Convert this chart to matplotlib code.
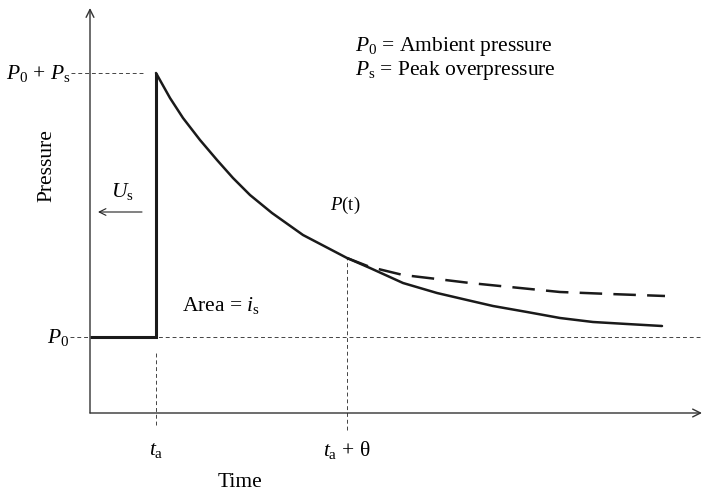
import matplotlib
matplotlib.use("Agg")
import matplotlib.pyplot as plt

plt.rcParams['font.family'] = ['Liberation Serif', 'DejaVu Serif']
plt.rcParams['mathtext.fontset'] = 'custom'
plt.rcParams['mathtext.rm'] = 'Liberation Serif'
plt.rcParams['mathtext.it'] = 'Liberation Serif:italic'

# schematic values (arbitrary units)
P0 = 76
Ps = 264
ta = 66
theta = 191

# positive phase pressure curve P(t)
t_curve = [66, 80, 93, 110, 127, 143, 160, 182, 213, 257,
           280, 313, 347, 377, 403, 437, 470, 503, 537, 572]
p_curve = [340, 315, 295, 273, 253, 235, 218, 200, 178, 155,
           145, 130, 120, 113, 107, 101, 95, 91, 89, 87]

# dashed alternative decay
t_dash = [257, 280, 313, 347, 380, 420, 470, 520, 575]
p_dash = [155, 146, 138, 134, 130, 126, 121, 119, 117]

fig = plt.figure(figsize=(7.02, 4.94), dpi=100)
ax = fig.add_axes([0, 0, 1, 1])
ax.set_xlim(-90, 612)
ax.set_ylim(-81, 413)
ax.axis("off")

# axes with open arrow heads
ax.annotate("", xy=(0, 405), xytext=(0, 0),
            arrowprops=dict(arrowstyle="->", lw=1.0, color="#333333",
                            mutation_scale=14, shrinkA=0, shrinkB=0))
ax.annotate("", xy=(612, 0), xytext=(0, 0),
            arrowprops=dict(arrowstyle="->", lw=1.0, color="#333333",
                            mutation_scale=14, shrinkA=0, shrinkB=0))

# guide lines
guide = dict(color="#444444", lw=0.7, dashes=(4, 3))
ax.plot([-20, 612], [P0, P0], **guide)
ax.plot([-19, ta - 12], [P0 + Ps, P0 + Ps], **guide)
ax.plot([ta, ta], [-12, P0 - 15], **guide)
ax.plot([ta + theta, ta + theta], [-17, p_curve[9]], **guide)

# ambient then shock jump
ax.plot([0, ta, ta], [P0, P0, P0 + Ps], color="#1a1a1a", lw=2.2,
        solid_joinstyle="miter", solid_capstyle="butt")
ax.plot(t_curve, p_curve, color="#1a1a1a", lw=1.8, solid_capstyle="round",
        solid_joinstyle="round")
ax.plot(t_dash, p_dash, color="#1a1a1a", lw=1.8, dashes=(9, 4.5))

fs = 15.5
ax.text(-43, 247, "Pressure", rotation=90, ha="center", va="center", fontsize=fs)
ax.text(150, -69, "Time", ha="center", va="center", fontsize=fs)
ax.text(-19, P0 + Ps, r"$P_0$ + $P_\mathrm{s}$", ha="right", va="center", fontsize=fs)
ax.text(-21, P0, r"$P_0$", ha="right", va="center", fontsize=fs)
ax.text(ta, -37, r"$t_\mathrm{a}$", ha="center", va="center", fontsize=fs)
ax.text(ta + theta, -37, r"$t_\mathrm{a}$ + θ", ha="center", va="center", fontsize=fs)
ax.text(32, 221, r"$U_\mathrm{s}$", ha="center", va="center", fontsize=fs)
ax.annotate("", xy=(8, 201), xytext=(52, 201),
            arrowprops=dict(arrowstyle="->", lw=0.8, color="#222222",
                            mutation_scale=12, shrinkA=0, shrinkB=0))
ax.text(240, 208, r"$P$(t)", ha="left", va="center", fontsize=fs - 2)
ax.text(92, 108, r"Area = $i_\mathrm{s}$", ha="left", va="center", fontsize=fs)
ax.text(265, 366, r"$P_0$ = Ambient pressure", ha="left", va="center", fontsize=fs)
ax.text(265, 343, r"$P_\mathrm{s}$ = Peak overpressure", ha="left", va="center", fontsize=fs)

fig.savefig("out.png", dpi=100)
